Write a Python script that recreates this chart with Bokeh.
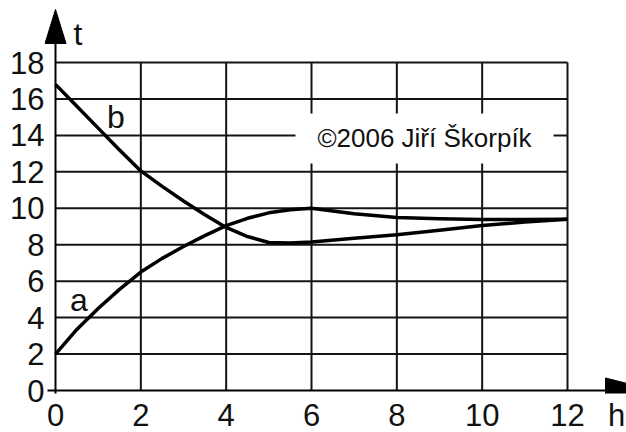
from bokeh.plotting import figure
from bokeh.models import Range1d, FixedTicker, Label, BoxAnnotation
from bokeh.embed import file_html
from bokeh.resources import INLINE

# ---- data ----
h_a = [0, 0.5, 1, 1.5, 2, 2.5, 3, 3.5, 4, 4.5, 5, 5.5, 6, 7, 8, 9, 10, 11, 12]
t_a = [2.0, 3.35, 4.5, 5.55, 6.5, 7.25, 7.9, 8.5, 9.05, 9.45, 9.75, 9.92, 10.0,
       9.7, 9.5, 9.42, 9.38, 9.38, 9.4]
h_b = [0, 0.5, 1, 1.5, 2, 2.5, 3, 3.5, 4, 4.5, 5, 5.5, 6, 7, 8, 9, 10, 11, 12]
t_b = [16.8, 15.6, 14.4, 13.2, 12.05, 11.2, 10.4, 9.65, 8.95, 8.45, 8.12, 8.1, 8.15,
       8.35, 8.55, 8.8, 9.05, 9.25, 9.4]
x_ticks = [0, 2, 4, 6, 8, 10, 12]
y_ticks = [0, 2, 4, 6, 8, 10, 12, 14, 16, 18]
x_name = "h"
y_name = "t"
series_names = ["a", "b"]
credit = "©2006 Jiří Škorpík"

# ---- scale (pixels per data unit) ----
UX = 512 / 12.0
UY = 328 / 18.0
FONT = "Liberation Sans"
INK = "#111111"

x0 = x_ticks[0]; x1 = x_ticks[-1]
y0 = y_ticks[0]; y1 = y_ticks[-1]

p = figure(frame_width=582, frame_height=393,
           x_range=Range1d(x0 - 11 / UX, x0 + 571 / UX),
           y_range=Range1d(y0 - 3 / UY, y0 + 390 / UY),
           output_backend="svg", toolbar_location=None,
           min_border_left=44, min_border_right=0, min_border_top=0, min_border_bottom=39,
           background_fill_color="white", border_fill_color="white")
p.outline_line_color = None
p.xgrid.visible = False
p.ygrid.visible = False

# the x-axis name sits at the right end of the tick-label row
h_pos = 13.15
for ax, ticks, st in ((p.xaxis, x_ticks + [h_pos], 4), (p.yaxis, y_ticks, 0)):
    ax.ticker = FixedTicker(ticks=ticks)
    ax.axis_line_color = None
    ax.major_tick_line_color = None
    ax.minor_tick_line_color = None
    ax.major_tick_in = 0
    ax.major_tick_out = 0
    ax.major_label_standoff = st
    ax.major_label_text_font = FONT
    ax.major_label_text_font_size = "31px"
    ax.major_label_text_color = INK
p.xaxis.major_label_overrides = {h_pos: x_name}

# grid lines inside the data box
gx = x_ticks[1:]
p.segment(x0=gx, y0=[y0] * len(gx), x1=gx, y1=[y1] * len(gx), line_color="#141414", line_width=2)
gy = y_ticks[1:]
p.segment(x0=[x0] * len(gy), y0=gy, x1=[x1] * len(gy), y1=gy, line_color="#141414", line_width=2)

# axis lines with arrows
xa_base = x0 + 550 / UX
ya_base = y0 + 347 / UY
p.segment(x0=[x0 - 8 / UX], y0=[y0], x1=[xa_base], y1=[y0], line_color="black", line_width=2)
p.segment(x0=[x0], y0=[y0 - 5 / UY], x1=[x0], y1=[ya_base], line_color="black", line_width=2)
p.patch(x=[x0 - 10.5 / UX, x0 + 10.5 / UX, x0],
        y=[ya_base, ya_base, ya_base + 34 / UY], color="black")
p.patch(x=[xa_base, xa_base, xa_base + 50 / UX],
        y=[y0 - 12.5 / UY, y0 + 12.5 / UY, y0], color="black")

# curves
p.line(h_a, t_a, line_color="black", line_width=3.5, line_join="round")
p.line(h_b, t_b, line_color="black", line_width=3.5, line_join="round")

# credit box
p.add_layout(BoxAnnotation(left=x0 + 240 / UX, right=x0 + 498 / UX,
                           bottom=y0 + 227 / UY, top=y0 + 277 / UY,
                           fill_color="white", fill_alpha=1.0, line_color=None))
p.add_layout(Label(x=x0 + 369 / UX, y=y0 + 253 / UY, text=credit,
                   text_font=FONT, text_font_size="26px", text_color=INK,
                   text_align="center", text_baseline="middle"))

# letters
def letter(txt, px, py, align):
    p.add_layout(Label(x=x0 + px / UX, y=y0 + py / UY, text=txt, text_font=FONT,
                       text_font_size="32px", text_color=INK, text_align=align,
                       text_baseline="middle"))

letter(y_name, 18, 357, "left")
letter(series_names[1], 60.5, 274, "center")
letter(series_names[0], 23.5, 91, "center")

open("out.html", "w").write(file_html(p, INLINE))
